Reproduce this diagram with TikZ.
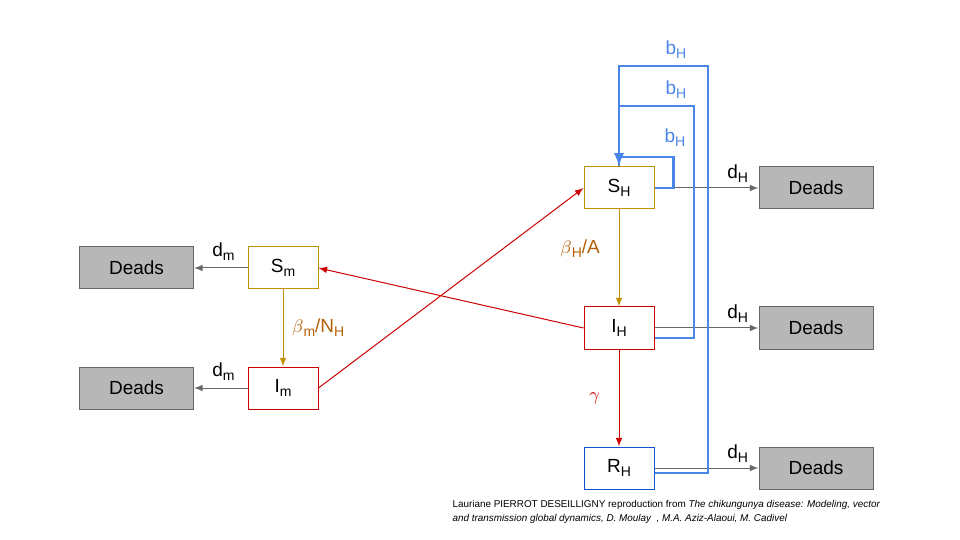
\documentclass[tikz,border=0pt]{standalone}
\usepackage{fontspec}
\setmainfont{Liberation Sans}
\usetikzlibrary{positioning}
\definecolor{gold}{HTML}{BF9000}
\definecolor{redbox}{HTML}{CC0000}
\definecolor{bluebox}{HTML}{1155CC}
\definecolor{blueloop}{HTML}{4A86E8}
\definecolor{rate}{HTML}{B45F06}
\definecolor{deadfill}{HTML}{B7B7B7}
\definecolor{deadline}{HTML}{666666}
\newcommand{\low}[1]{\raisebox{-2pt}{\fontsize{7}{7}\selectfont #1}}
\begin{document}
\begin{tikzpicture}[>=latex, x=0.5pt, y=-0.5pt, line width=0.5pt,
  box/.style={draw, fill=white, minimum width=35pt, minimum height=21pt, inner sep=0pt, font=\fontsize{9.5}{11}\selectfont},
  dead/.style={box, fill=deadfill, draw=deadline, minimum width=57pt},
  lbl/.style={font=\fontsize{9.5}{11}\selectfont},
  bloop/.style={blueloop, line width=1.3pt}]
\useasboundingbox (0,0) rectangle (960,540);
% humans
\node[box, draw=gold] (SH) at (619,188) {S\low{H}};
\node[box, draw=redbox] (IH) at (619,328) {I\low{H}};
\node[box, draw=bluebox] (RH) at (619,468) {R\low{H}};
% mosquitoes
\node[box, draw=gold] (Sm) at (283,268) {S\low{m}};
\node[box, draw=redbox] (Im) at (283,388) {I\low{m}};
% deaths
\foreach \n/\y in {SH/188, IH/328, RH/468}
{
    \node[dead] (D\n) at (816,\y) {Deads};
    \draw[->, deadline] (\n) -- (D\n) node[lbl, black, pos=.8, above=-1pt]{d\low{H}};
}
\foreach \n/\y in {Sm/268, Im/388}
{
    \node[dead] (D\n) at (136.5,\y) {Deads};
    \draw[->, deadline] (\n) -- (D\n) node[lbl, black, pos=.45, above=0pt]{d\low{m}};
}
% births
\draw[bloop] ([yshift=-2.5pt]RH.east) -| (708,66) -| (SH.north);
\draw[bloop] ([yshift=-5pt]IH.east) -| (694,106) -| (SH.north);
\draw[bloop, ->] (SH.east) -| ++(19,-31) -| (SH.north);
\node[lbl, blueloop] (b1) at (675,138) {b\low{H}};
\node[lbl, blueloop] (b2) at (676,90) {b\low{H}};
\node[lbl, blueloop] (b3) at (676,50) {b\low{H}};
% infection
\draw[->, redbox] (Im.east) -- (SH.west);
\draw[->, redbox] (IH.west) -- (Sm.east);
\draw[->, gold] (Sm) -- (Im) node[lbl, rate, midway, right=1pt]{$\beta$\low{m}/N\low{H}};
\draw[->, gold] (SH) -- (IH) node[lbl, rate, pos=.4, left=6pt]{$\beta$\low{H}/A};
\draw[->, redbox] (IH) -- (RH) node[lbl, redbox, midway, left=6pt]{$\gamma$};
\node[anchor=north west, align=left, inner sep=0pt, font=\fontsize{4.95}{7}\selectfont] (cite) at (452,500)
  {Lauriane PIERROT DESEILLIGNY reproduction from \textit{The chikungunya disease: Modeling, vector}\\
   \textit{and transmission global dynamics, D. Moulay\ \ , M.A. Aziz-Alaoui, M. Cadivel}};
\end{tikzpicture}
\end{document}
